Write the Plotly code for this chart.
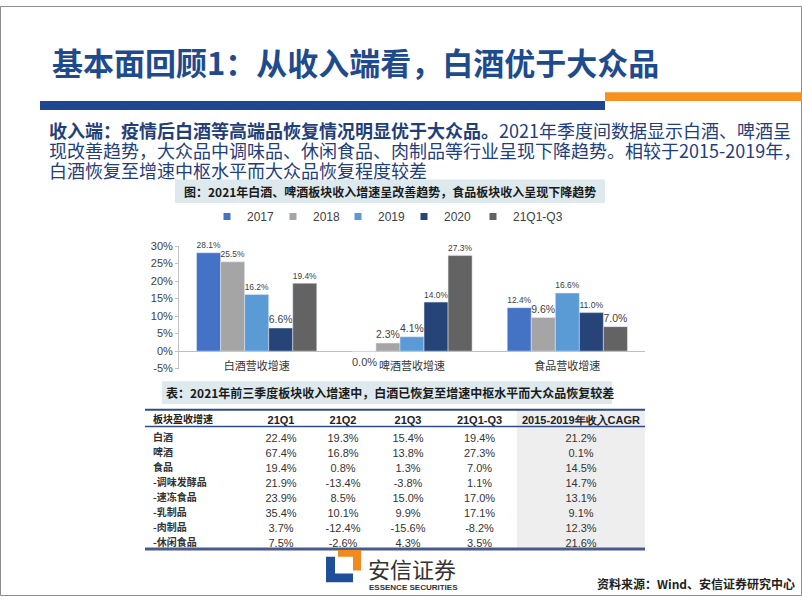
import plotly.graph_objects as go

W, H = 802, 602

def px(x):
    return x / W

def py(y):
    return 1 - y / H

# ---------------- data ----------------
categories = ['白酒营收增速', '啤酒营收增速', '食品营收增速']
series_names = ['2017', '2018', '2019', '2020', '21Q1-Q3']
v2017 = [28.1, 0.0, 12.4]
v2018 = [25.5, 2.3, 9.6]
v2019 = [16.2, 4.1, 16.6]
v2020 = [6.6, 14.0, 11.0]
v21q = [19.4, 27.3, 7.0]
series_values = [v2017, v2018, v2019, v2020, v21q]
series_colors = ['#4472C4', '#A5A5A5', '#5B9BD5', '#264478', '#636363']
y_ticks = [-5, 0, 5, 10, 15, 20, 25, 30]
y_tick_labels = ['-5%', '0%', '5%', '10%', '15%', '20%', '25%', '30%']

table_header = ['板块盈收增速', '21Q1', '21Q2', '21Q3', '21Q1-Q3', '2015-2019年收入CAGR']
row_labels = ['白酒', '啤酒', '食品', '-调味发酵品', '-速冻食品', '-乳制品', '-肉制品', '-休闲食品']
col_21q1 = ['22.4%', '67.4%', '19.4%', '21.9%', '23.9%', '35.4%', '3.7%', '7.5%']
col_21q2 = ['19.3%', '16.8%', '0.8%', '-13.4%', '8.5%', '10.1%', '-12.4%', '-2.6%']
col_21q3 = ['15.4%', '13.8%', '1.3%', '-3.8%', '15.0%', '9.9%', '-15.6%', '4.3%']
col_21q1q3 = ['19.4%', '27.3%', '7.0%', '1.1%', '17.0%', '17.1%', '-8.2%', '3.5%']
col_cagr = ['21.2%', '0.1%', '14.5%', '14.7%', '13.1%', '9.1%', '12.3%', '21.6%']

title_text = '基本面回顾1：从收入端看，白酒优于大众品'
para_lines = [
    '<b>收入端：疫情后白酒等高端品恢复情况明显优于大众品。</b>2021年季度间数据显示白酒、啤酒呈',
    '现改善趋势，大众品中调味品、休闲食品、肉制品等行业呈现下降趋势。相较于2015-2019年，',
    '白酒恢复至增速中枢水平而大众品恢复程度较差',
]
fig_caption = '图：2021年白酒、啤酒板块收入增速呈改善趋势，食品板块收入呈现下降趋势'
tab_caption = '表：2021年前三季度板块收入增速中，白酒已恢复至增速中枢水平而大众品恢复较差'
source_text = '资料来源：Wind、安信证券研究中心'

CJK = 'Noto Sans CJK SC'
ARIAL = 'Liberation Sans, Arial'
NAVY = '#1E4A8E'
BAR_PX = 24  # pixel width of one bar in a group (style)
legend_x_px = [207, 273, 338, 404, 473]  # legend item positions (style)

fig = go.Figure()

legend_ids = ['legend', 'legend2', 'legend3', 'legend4', 'legend5']
for i, (name, vals, col) in enumerate(zip(series_names, series_values, series_colors)):
    fig.add_trace(go.Bar(
        name=name, x=categories, y=vals, marker_color=col, showlegend=False,
        text=[f'{v:.1f}%' if v != 0 else '' for v in vals], textposition='outside',
        textfont=dict(family=ARIAL, size=11, color='#404040'),
        cliponaxis=False, xaxis='x', yaxis='y',
    ))
    # legend entry with a small square symbol
    fig.add_trace(go.Scatter(
        name=name, x=[None], y=[None], mode='markers',
        marker=dict(symbol='square', size=7, color=col), showlegend=True,
        legend=legend_ids[i], xaxis='x', yaxis='y',
    ))

# table
fams = [CJK, ARIAL, ARIAL, ARIAL, ARIAL, ARIAL]
clear = 'rgba(0,0,0,0)'
fig.add_trace(go.Table(
    domain=dict(x=[px(145), px(645)], y=[py(580), py(410)]),
    columnwidth=[105, 62, 62, 68, 75, 128],
    header=dict(
        values=table_header,
        align=['left', 'center', 'center', 'center', 'center', 'center'],
        font=dict(family=fams, size=[10, 11, 11, 11, 11, 11], color='#222222', weight='bold'),
        fill_color=clear,
        line=dict(color=clear, width=0),
        height=18,
    ),
    cells=dict(
        values=[row_labels, col_21q1, col_21q2, col_21q3, col_21q1q3, col_cagr],
        align=['left', 'center', 'center', 'center', 'center', 'center'],
        font=dict(family=fams, size=[10, 11, 11, 11, 11, 11], color='#333333',
                  weight=['bold', 'normal', 'normal', 'normal', 'normal', 'normal']),
        fill_color=clear,
        line=dict(color=clear, width=0),
        height=15,
    ),
))

shapes = []
# page frame
shapes.append(dict(type='rect', xref='paper', yref='paper', x0=px(0.5), x1=px(801.5), y0=py(601.5), y1=py(0.5),
                   line=dict(color='#8C8C8C', width=1), fillcolor='rgba(0,0,0,0)', layer='above'))
# header bars
shapes.append(dict(type='rect', xref='paper', yref='paper', x0=px(40), x1=px(605), y0=py(106), y1=py(97),
                   line=dict(width=0), fillcolor='#1F4690'))
shapes.append(dict(type='rect', xref='paper', yref='paper', x0=px(605), x1=px(802), y0=py(97), y1=py(88),
                   line=dict(width=0), fillcolor='#F7901E'))
# caption boxes
shapes.append(dict(type='rect', xref='paper', yref='paper', x0=px(175), x1=px(605), y0=py(201), y1=py(177),
                   line=dict(width=0), fillcolor='#DDE9EC', layer='below'))
shapes.append(dict(type='rect', xref='paper', yref='paper', x0=px(162), x1=px(612), y0=py(406), y1=py(383),
                   line=dict(width=0), fillcolor='#DDE9EC', layer='below'))
# grey background of CAGR column
shapes.append(dict(type='rect', xref='paper', yref='paper', x0=px(517), x1=px(645), y0=py(553), y1=py(412),
                   line=dict(width=0), fillcolor='#EEEEEE', layer='below'))
# table rules
shapes.append(dict(type='line', xref='paper', yref='paper', x0=px(145), x1=px(645), y0=py(412), y1=py(412),
                   line=dict(color='#2E4B8A', width=2), layer='above'))
shapes.append(dict(type='line', xref='paper', yref='paper', x0=px(145), x1=px(645), y0=py(429), y1=py(429),
                   line=dict(color='#2E4B8A', width=1.5), layer='above'))
shapes.append(dict(type='line', xref='paper', yref='paper', x0=px(145), x1=px(645), y0=py(554), y1=py(554),
                   line=dict(color='#4A5A8C', width=3), layer='above'))
# logo
shapes.append(dict(type='path', xref='paper', yref='paper',
                   path=f'M{px(326)},{py(562)} L{px(335)},{py(562)} L{px(335)},{py(579)} L{px(353)},{py(579)} '
                        f'L{px(353)},{py(588)} L{px(326)},{py(588)} Z',
                   line=dict(width=0), fillcolor='#1F4E9A'))
shapes.append(dict(type='path', xref='paper', yref='paper',
                   path=f'M{px(338)},{py(555)} L{px(361)},{py(555)} L{px(361)},{py(576)} L{px(353)},{py(576)} '
                        f'L{px(353)},{py(562)} L{px(338)},{py(562)} Z',
                   line=dict(width=0), fillcolor='#F08A1C'))

annotations = []
# zero-value bar labels sit just below the zero line
for i, vals in enumerate(series_values):
    for j, v in enumerate(vals):
        if v == 0:
            annotations.append(dict(text=f'{v:.1f}%', x=categories[j], y=v, xref='x', yref='y',
                                    xshift=(i - 2) * BAR_PX, yshift=-11, showarrow=False,
                                    font=dict(family=ARIAL, size=11, color='#404040')))
annotations.append(dict(text=f'<b>{title_text}</b>', x=px(50), y=py(57), xref='paper', yref='paper',
                        xanchor='left', yanchor='middle', showarrow=False,
                        font=dict(family=CJK, size=31, color=NAVY)))
for i, line in enumerate(para_lines):
    annotations.append(dict(text=line, x=px(47), y=py(127 + 20 * i), xref='paper', yref='paper',
                            xanchor='left', yanchor='middle', showarrow=False,
                            font=dict(family=CJK, size=18, color='#1F3E7A')))
annotations.append(dict(text=f'<b>{fig_caption}</b>', x=px(390), y=py(189), xref='paper', yref='paper',
                        xanchor='center', yanchor='middle', showarrow=False,
                        font=dict(family=CJK, size=12, color='#1A1A1A')))
annotations.append(dict(text=f'<b>{tab_caption}</b>', x=px(390), y=py(394), xref='paper', yref='paper',
                        xanchor='center', yanchor='middle', showarrow=False,
                        font=dict(family=CJK, size=12, color='#1A1A1A')))
annotations.append(dict(text='安信证券', x=px(366), y=py(573), xref='paper', yref='paper',
                        xanchor='left', yanchor='middle', showarrow=False,
                        font=dict(family=CJK, size=22, color='#333333')))
annotations.append(dict(text='<b>ESSENCE SECURITIES</b>', x=px(367), y=py(593), xref='paper', yref='paper',
                        xanchor='left', yanchor='middle', showarrow=False,
                        font=dict(family=ARIAL, size=8, color='#333333')))
annotations.append(dict(text=f'<b>{source_text}</b>', x=px(797), y=py(589), xref='paper', yref='paper',
                        xanchor='right', yanchor='middle', showarrow=False,
                        font=dict(family=CJK, size=12, color='#222222')))

legend_common = dict(orientation='h', xanchor='left', yanchor='top',
                     font=dict(family=ARIAL, size=12, color='#404040'),
                     itemwidth=30, bgcolor='rgba(0,0,0,0)')
legends = {lid: dict(x=px(lx), y=py(200), **legend_common) for lid, lx in zip(legend_ids, legend_x_px)}

fig.update_layout(
    width=W, height=H, autosize=False,
    margin=dict(l=0, r=0, t=0, b=0, pad=0),
    paper_bgcolor='white', plot_bgcolor='rgba(0,0,0,0)',
    barmode='group', bargap=0.226, bargroupgap=0,
    showlegend=True,
    xaxis=dict(domain=[px(179), px(645)], anchor='free', position=py(359),
               showline=False, ticks='', showgrid=False, zeroline=False,
               tickfont=dict(family=CJK, size=11, color='#333333')),
    yaxis=dict(domain=[py(370), py(245)], range=[-5, 30], anchor='x',
               tickvals=y_ticks, ticktext=y_tick_labels, showgrid=False,
               showline=True, linecolor='#BFBFBF', linewidth=1,
               ticks='outside', ticklen=3, tickcolor='#BFBFBF',
               zeroline=True, zerolinecolor='#BFBFBF', zerolinewidth=1,
               tickfont=dict(family=ARIAL, size=11, color='#404040')),
    shapes=shapes, annotations=annotations,
    font=dict(family=CJK),
    **legends,
)

fig.write_html('out.html')
